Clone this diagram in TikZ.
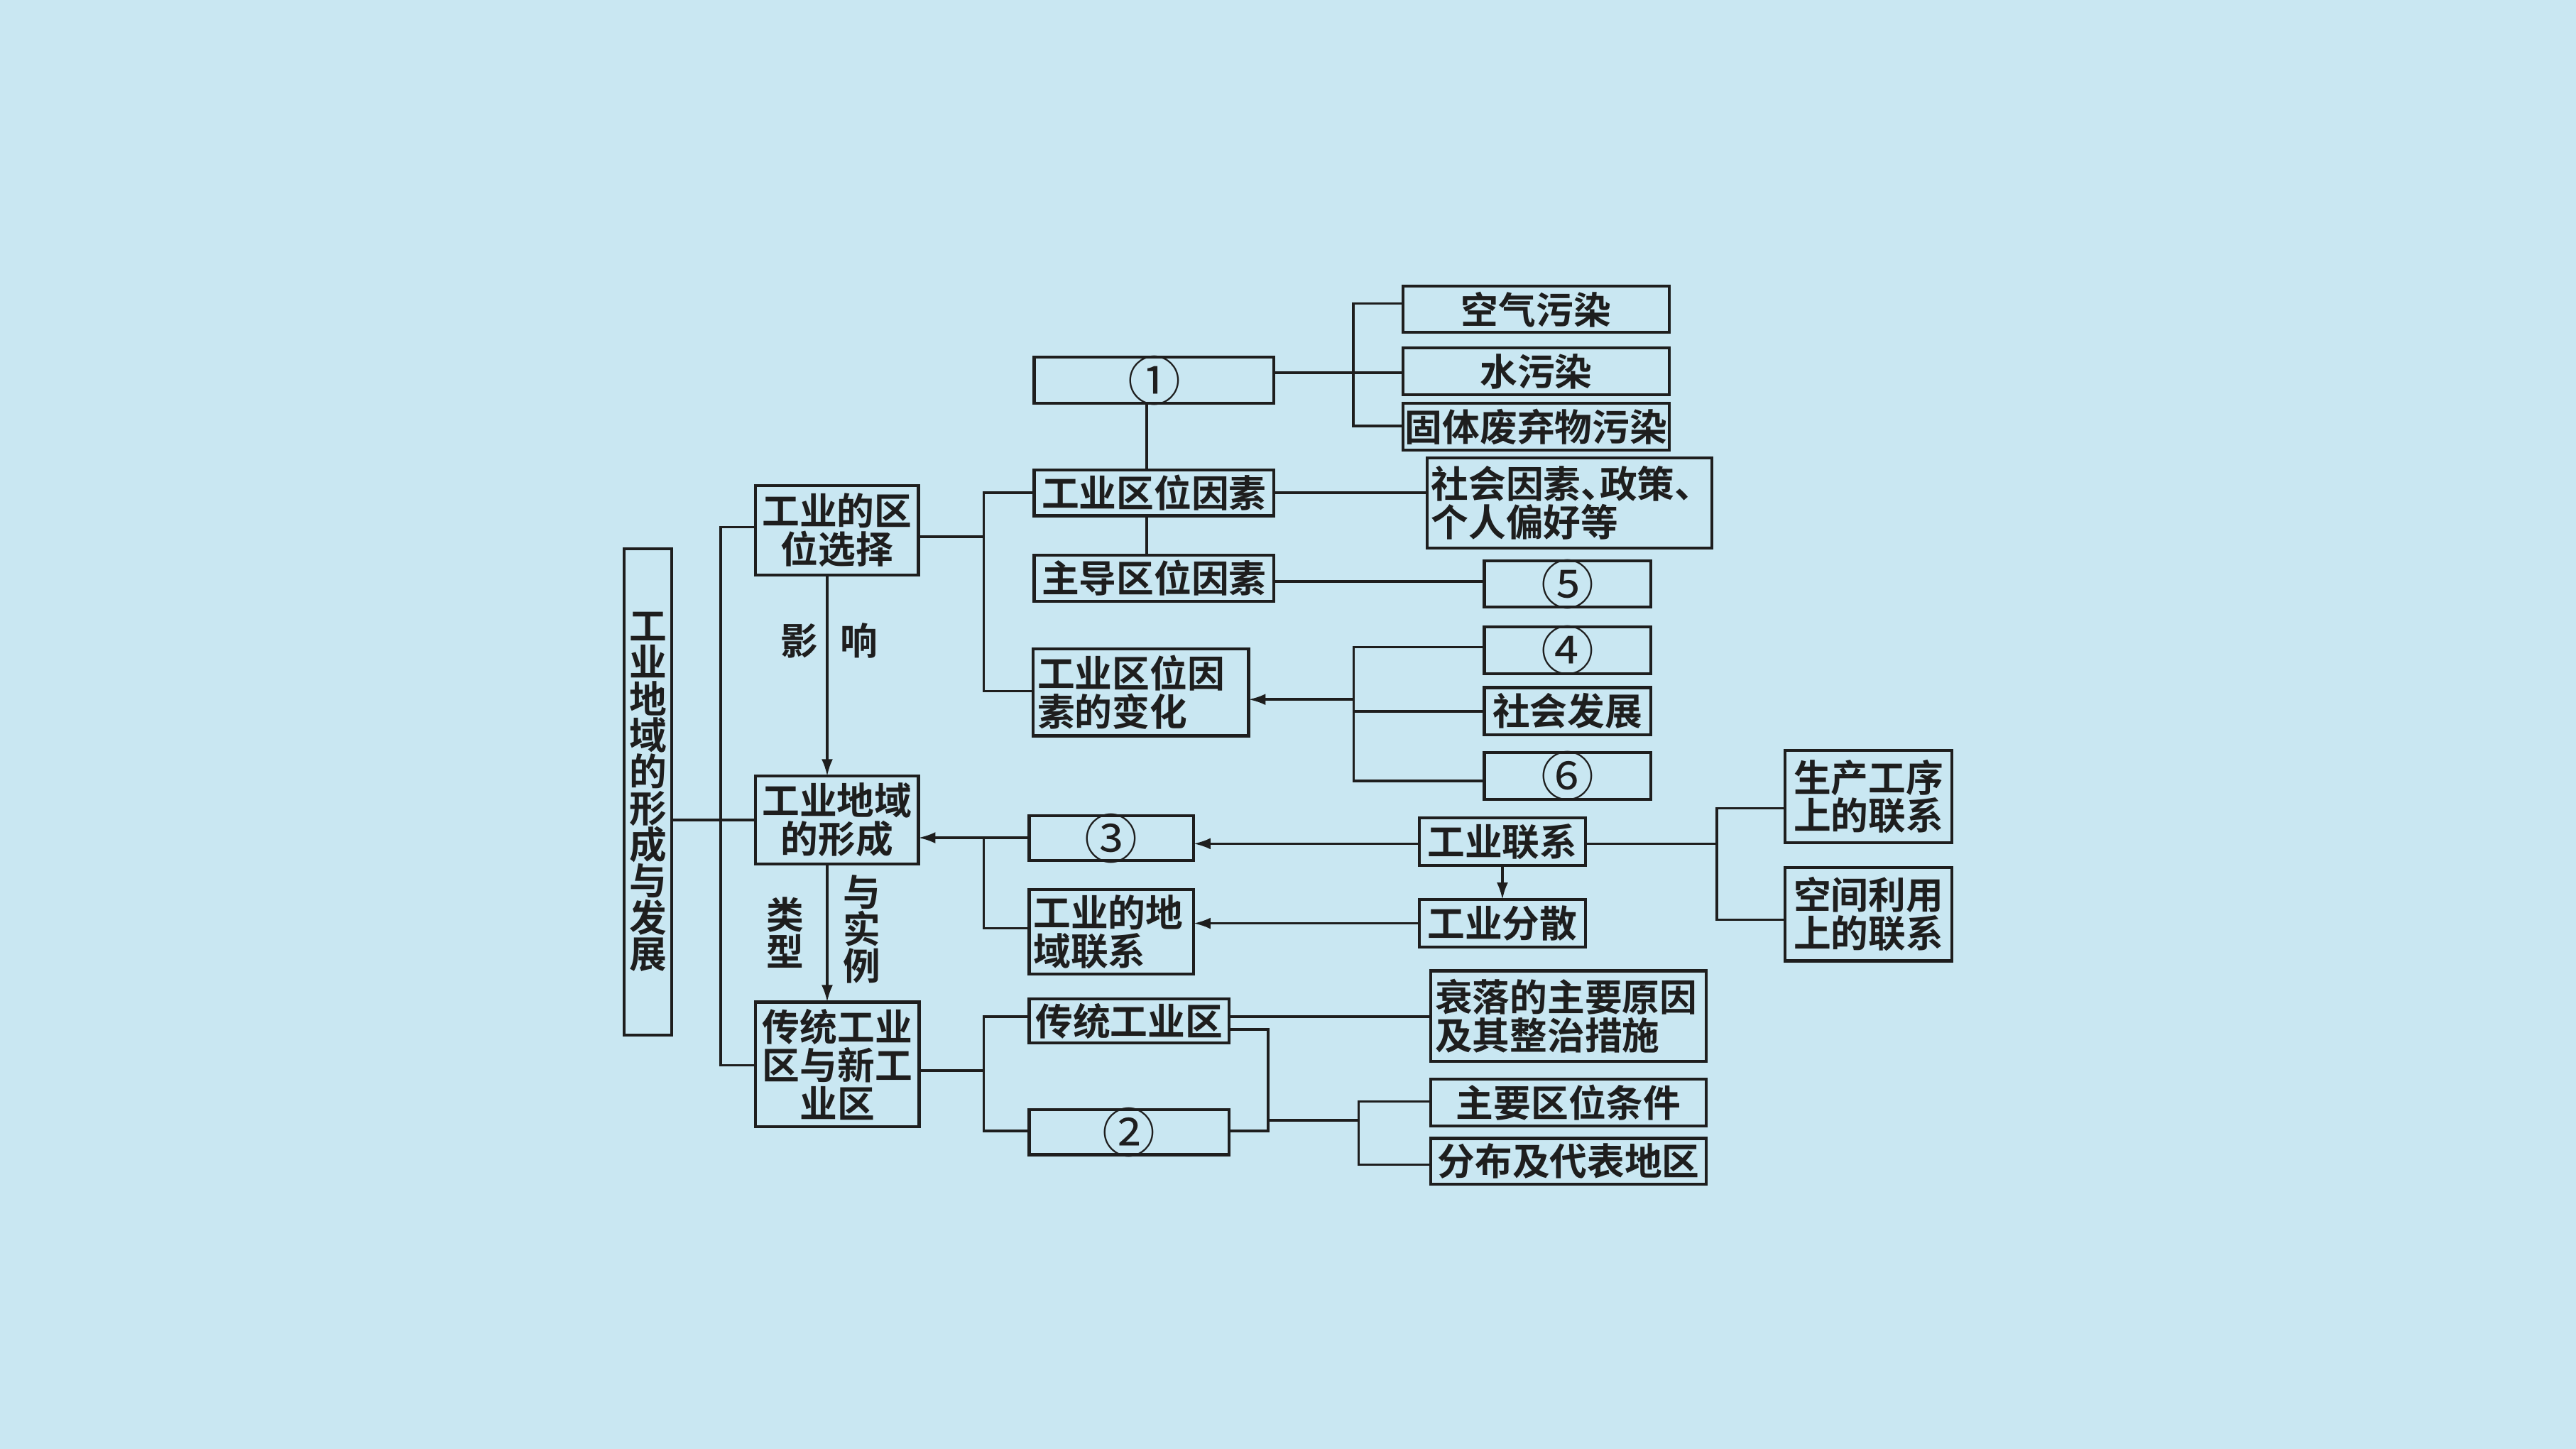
\documentclass[tikz,border=0pt]{standalone}
\usepackage{fontspec}
\usetikzlibrary{arrows.meta}
\newfontfamily\cjk{Noto Sans CJK SC}[BoldFont={Noto Sans CJK SC Bold}]
\definecolor{bgc}{RGB}{201,231,242}
\definecolor{ink}{RGB}{30,30,30}
\newcommand\bx[7]{\node[box, align=#6, minimum width={(#4-#2)*0.023138cm}, minimum height={(#5-#3)*0.023138cm}] (#1) at ({(#2+#4)/2},{(#3+#5)/2}) {#7};}
\newcommand\bxl[6]{\node[box, align=left, text width={(#4-#2-5)*0.023138cm}, minimum width={(#4-#2)*0.023138cm}, minimum height={(#5-#3)*0.023138cm}] (#1) at ({(#2+#4)/2},{(#3+#5)/2}) {#6};}
\newcommand\hc{\makebox[0.5em][l]{、}}
\newcommand\cn[1]{\smash{\raisebox{-8.2pt}{\scalebox{1.42}{\mdseries #1}}}}
\begin{document}
\begin{tikzpicture}[x=0.023138cm,y=-0.023138cm,
 box/.style={draw=ink, line width=1.2pt, inner sep=0pt, outer sep=0pt, text=ink,
   font=\cjk\bfseries\fontsize{15pt}{15.3pt}\selectfont},
 ln/.style={draw=ink, line width=1pt},
 arr/.style={ln, -{Latex[length=2.4mm,width=1.6mm]}},
 lbl/.style={font=\cjk\bfseries\fontsize{15pt}{14.8pt}\selectfont, align=center, inner sep=0pt, text=ink}]
\fill[bgc] (0,0) rectangle (1568,882);
\useasboundingbox (0,0) rectangle (1568,882);
% boxes
\node[box, align=center, font=\cjk\bfseries\fontsize{15pt}{14.6pt}\selectfont,
  minimum width={29*0.023138cm}, minimum height={296*0.023138cm}] (main) at (394.5,482)
  {工\\业\\地\\域\\的\\形\\成\\与\\发\\展};
\bx{xw}{460}{295.6}{559}{350}{center}{工业的区\\位选择}
\bx{xc}{460}{472.5}{559}{526}{center}{工业地域\\的形成}
\bx{ct}{460}{610}{559.5}{686}{center}{传统工业\\区与新工\\业区}
\bx{c1}{629.5}{217.5}{775.5}{245.5}{center}{\cn{①}}
\bx{qy}{629.5}{286}{775.5}{314}{center}{工业区位因素}
\bx{zd}{629.5}{338}{775.5}{366}{center}{主导区位因素}
\bxl{bh}{629}{395}{760}{448}{工业区位因\\素的变化}
\bx{c3}{626.5}{496.6}{726.5}{523.8}{center}{\cn{③}}
\bxl{dy}{626.5}{541.5}{726.5}{593}{工业的地\\域联系}
\bx{ts}{626.5}{608}{748}{635}{center}{传统工业区}
\bx{c2}{626.5}{675.5}{748}{703}{center}{\cn{②}}
\bx{kq}{854}{174.3}{1016}{202.4}{center}{空气污染}
\bx{sw}{854}{211.8}{1016}{240.3}{center}{水污染}
\bx{gt}{854}{245.6}{1016}{274}{center}{固体废弃物污染}
\bxl{shys}{868.7}{278.8}{1042}{333.7}{社会因素\hc 政策\hc\\个人偏好等}
\bx{c5}{903.5}{341.5}{1004.7}{369.5}{center}{\cn{⑤}}
\bx{c4}{903.5}{381.7}{1004.7}{410}{center}{\cn{④}}
\bx{shfz}{903.5}{418.6}{1004.7}{447.4}{center}{社会发展}
\bx{c6}{903.5}{458}{1004.7}{486.7}{center}{\cn{⑥}}
\bx{lx}{864}{498}{965}{527}{center}{工业联系}
\bx{fs}{864}{547.6}{965}{576.6}{center}{工业分散}
\bx{sc}{1086.6}{456.8}{1188}{513}{center}{生产工序\\上的联系}
\bx{kj}{1086.6}{528}{1188}{585}{center}{空间利用\\上的联系}
\bxl{sl}{871}{591}{1038.5}{646}{衰落的主要原因\\及其整治措施}
\bx{zy}{871}{657}{1038.5}{685.5}{center}{主要区位条件}
\bx{fb}{871}{693}{1038.5}{721}{center}{分布及代表地区}
% labels
\node[lbl] (l1) at (486.7,390) {影};
\node[lbl] (l2) at (523,390) {响};
\node[lbl] (l3) at (477.8,567.6) {类\\型};
\node[lbl] (l4) at (524.5,565.8) {与\\实\\例};
% coordinates
\coordinate (b1t) at (438.7,321);
\coordinate (b1b) at (438.7,648.5);
\coordinate (a1) at (503.5,0);
\coordinate (j2) at (598.8,326.8);
\coordinate (b2b) at (598.8,420.7);
\coordinate (v1) at (698,0);
\coordinate (b3) at (823.8,227);
\coordinate (b3t) at (823.8,184.8);
\coordinate (b3b) at (823.8,259.3);
\coordinate (b4) at (824,425.8);
\coordinate (b4t) at (824,394);
\coordinate (b4b) at (824,475.5);
\coordinate (h5) at (0,354);
\coordinate (h6) at (0,513.6);
\coordinate (b5t) at (1045,492);
\coordinate (b5b) at (1045,560);
\coordinate (b6t) at (598.8,510);
\coordinate (b6b) at (598.8,565);
\coordinate (j7) at (598.8,651.8);
\coordinate (b7t) at (598.8,619);
\coordinate (b7b) at (598.8,688.5);
\coordinate (b8t) at (772,626.7);
\coordinate (b8b) at (772,688.5);
\coordinate (b9) at (827,682);
\coordinate (b9t) at (827,670.6);
\coordinate (b9b) at (827,709);
% connectors
\draw[ln] (main.east |- xc.west) -- (xc.west);
\draw[ln] (xw.west |- b1t) -- (b1t) -- (b1b) -- (ct.west |- b1b);
\draw[arr] (xw.south -| a1) -- (xc.north -| a1);
\draw[arr] (xc.south -| a1) -- (ct.north -| a1);
\draw[ln] (xw.east |- j2) -- (j2);
\draw[ln] (qy.west) -- (qy.west -| j2) -- (b2b) -- (bh.west |- b2b);
\draw[ln] (c1.south -| v1) -- (qy.north -| v1);
\draw[ln] (qy.south -| v1) -- (zd.north -| v1);
\draw[ln] (c1.east |- b3) -- (sw.west |- b3);
\draw[ln] (kq.west |- b3t) -- (b3t) -- (b3b) -- (gt.west |- b3b);
\draw[ln] (qy.east) -- (shys.west |- qy.east);
\draw[ln] (zd.east |- h5) -- (c5.west |- h5);
\draw[ln] (c4.west |- b4t) -- (b4t) -- (b4b) -- (c6.west |- b4b);
\draw[ln] (shfz.west) -- (shfz.west -| b4);
\draw[arr] (b4) -- (bh.east |- b4);
\draw[arr] (lx.west |- h6) -- (c3.east |- h6);
\draw[arr] (fs.west) -- (dy.east |- fs.west);
\draw[arr] (lx.south) -- (fs.north);
\draw[ln] (lx.east |- h6) -- (b5t |- h6);
\draw[ln] (sc.west |- b5t) -- (b5t) -- (b5b) -- (kj.west |- b5b);
\draw[ln] (c3.west |- b6t) -- (b6t) -- (b6b) -- (dy.west |- b6b);
\draw[arr] (b6t) -- (xc.east |- b6t);
\draw[ln] (ct.east |- j7) -- (j7);
\draw[ln] (ts.west |- b7t) -- (b7t) -- (b7b) -- (c2.west |- b7b);
\draw[ln] (ts.east |- b7t) -- (sl.west |- b7t);
\draw[ln] (ts.east |- b8t) -- (b8t) -- (b8b) -- (c2.east |- b8b);
\draw[ln] (b8t |- b9) -- (b9);
\draw[ln] (zy.west |- b9t) -- (b9t) -- (b9b) -- (fb.west |- b9b);
\end{tikzpicture}
\end{document}
